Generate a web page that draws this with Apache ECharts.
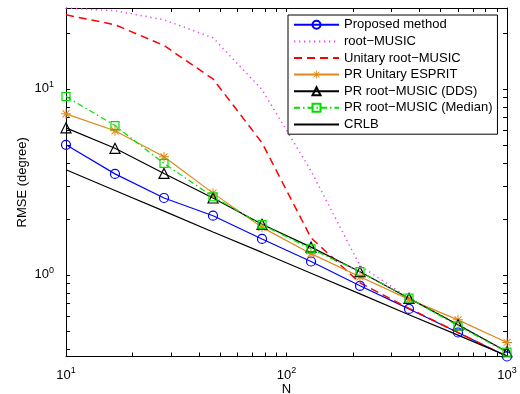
<!DOCTYPE html>
<html>
<head>
<meta charset="utf-8">
<script src="https://cdn.jsdelivr.net/npm/echarts@6.0.0/dist/echarts.min.js"></script>
<style>
html,body{margin:0;padding:0;background:#fff;}
#main{width:520px;height:394px;}
</style>
</head>
<body>
<div id="main"></div>
<script>
// N values (log spaced 10 .. 1000)
var N = [10, 16.68, 27.83, 46.42, 77.43, 129.2, 215.4, 359.4, 599.5, 1000];

// RMSE (degree)
var proposed = [5.0, 3.49, 2.59, 2.08, 1.56, 1.18, 0.873, 0.656, 0.49, 0.364];
var rootMusic = [27.2, 26.3, 23.5, 18.8, 9.9, 3.62, 1.12, 0.75, 0.54, 0.386];
var unitaryRootMusic = [25.0, 22.1, 17.1, 11.3, 5.13, 1.58, 0.906, 0.66, 0.49, 0.364];
var prEsprit = [7.34, 5.95, 4.31, 2.75, 1.80, 1.30, 0.976, 0.738, 0.573, 0.433];
var prDDS = [6.17, 4.79, 3.51, 2.59, 1.87, 1.41, 1.04, 0.748, 0.539, 0.386];
var prMedian = [9.09, 6.35, 3.97, 2.63, 1.86, 1.38, 1.04, 0.75, 0.532, 0.384];
var crlb = [3.67, 2.84, 2.20, 1.70, 1.32, 1.02, 0.79, 0.61, 0.474, 0.367];

// axis ticks
var xTicks = [10, 20, 30, 40, 50, 60, 70, 80, 90, 100, 200, 300, 400, 500, 600, 700, 800, 900, 1000];
var xLabels = [10, 100, 1000];
var yTicks = [0.4, 0.5, 0.6, 0.7, 0.8, 0.9, 1, 2, 3, 4, 5, 6, 7, 8, 9, 10, 20];
var yLabels = [1, 10];

var names = ['Proposed method', 'root\u2212MUSIC', 'Unitary root\u2212MUSIC', 'PR Unitary ESPRIT',
    'PR root\u2212MUSIC (DDS)', 'PR root\u2212MUSIC (Median)', 'CRLB'];

var FONT = 'Liberation Sans, Arial, Helvetica, sans-serif';
var xMin = 10, xMax = 1000, yMin = 0.364, yMax = 27.2;

// asterisk marker
var star = 'path://M0 9L20 9L20 11L0 11Z M9 0L11 0L11 20L9 20Z M2.3 3.7L3.7 2.3L17.7 16.3L16.3 17.7Z M16.3 2.3L17.7 3.7L3.7 17.7L2.3 16.3Z';

function pairs(ys) {
    var out = [];
    for (var i = 0; i < N.length; i++) {
        out.push([N[i], ys[i]]);
    }
    return out;
}

function powLabel(v) {
    return '{b|10}{s|' + Math.round(Math.log10(v)) + '}';
}

var labelRich = {
    b: {fontSize: 13, fontFamily: FONT, color: '#000'},
    s: {fontSize: 9, fontFamily: FONT, color: '#000', padding: [0, 0, 9, 0]}
};

function xAxisOf(pos, labels) {
    return {
        type: 'log', logBase: 10, min: xMin, max: xMax, position: pos,
        axisLine: {show: true, onZero: false, lineStyle: {color: '#000', width: 1}},
        axisTick: {show: true, inside: true, length: 4, customValues: xTicks, lineStyle: {color: '#000'}},
        axisLabel: {show: labels, customValues: xLabels, formatter: powLabel, rich: labelRich, margin: 10},
        splitLine: {show: false},
        name: labels ? 'N' : '', nameLocation: 'middle', nameGap: 26, nameMoveOverlap: false,
        nameTextStyle: {fontSize: 13, fontFamily: FONT, color: '#000'}
    };
}

function yAxisOf(pos, labels) {
    return {
        type: 'log', logBase: 10, min: yMin, max: yMax, position: pos,
        axisLine: {show: true, onZero: false, lineStyle: {color: '#000', width: 1}},
        axisTick: {show: true, inside: true, length: 4, customValues: yTicks, lineStyle: {color: '#000'}},
        axisLabel: {show: labels, customValues: yLabels, formatter: powLabel, rich: labelRich, margin: 12},
        splitLine: {show: false},
        name: labels ? 'RMSE (degree)' : '', nameLocation: 'middle', nameGap: 37, nameMoveOverlap: false,
        nameTextStyle: {fontSize: 13, fontFamily: FONT, color: '#000'}
    };
}

function lineSeries(name, data, color, dash, width, symbol, size, filled) {
    var noMark = symbol === 'none';
    return {
        name: name,
        type: 'line',
        data: pairs(data),
        symbol: noMark ? 'circle' : symbol,
        symbolSize: size,
        showSymbol: !noMark,
        lineStyle: {color: color, width: width, type: dash},
        itemStyle: noMark ? {color: 'rgba(0,0,0,0)', borderWidth: 0}
            : filled ? {color: color} : {color: 'rgba(0,0,0,0)', borderColor: color, borderWidth: 1.2},
        emphasis: {disabled: true}
    };
}

var chart = echarts.init(document.getElementById('main'));
var option = {
    animation: false,
    backgroundColor: '#fff',
    grid: {left: 66, right: 13, top: 8, bottom: 37.5, containLabel: false, outerBoundsMode: 'none'},
    xAxis: [xAxisOf('bottom', true), xAxisOf('top', false)],
    yAxis: [yAxisOf('left', true), yAxisOf('right', false)],
    legend: {
        data: names,
        orient: 'vertical',
        left: 288, top: 15,
        padding: [2, 5, 2, 5],
        itemWidth: 45, itemHeight: 10, itemGap: 1,
        backgroundColor: '#fff',
        borderColor: '#000', borderWidth: 1,
        textStyle: {fontSize: 13, fontFamily: FONT, color: '#000', lineHeight: 15.6}
    },
    series: [
        lineSeries(names[0], proposed, '#0000ff', 'solid', 1.2, 'circle', 9, false),
        lineSeries(names[1], rootMusic, '#ee44ee', [1.3, 3.7], 1.5, 'none', 0, true),
        lineSeries(names[2], unitaryRootMusic, '#ff0000', [8, 5], 1.5, 'none', 0, true),
        lineSeries(names[3], prEsprit, '#e0861a', 'solid', 1.2, star, 10, true),
        lineSeries(names[4], prDDS, '#000000', 'solid', 1.2, 'triangle', 10, false),
        lineSeries(names[5], prMedian, '#00e000', [6, 3, 1.5, 3], 1.2, 'rect', 8, false),
        lineSeries(names[6], crlb, '#000000', 'solid', 1.2, 'none', 0, true)
    ]
};
chart.setOption(option);
</script>
</body>
</html>
